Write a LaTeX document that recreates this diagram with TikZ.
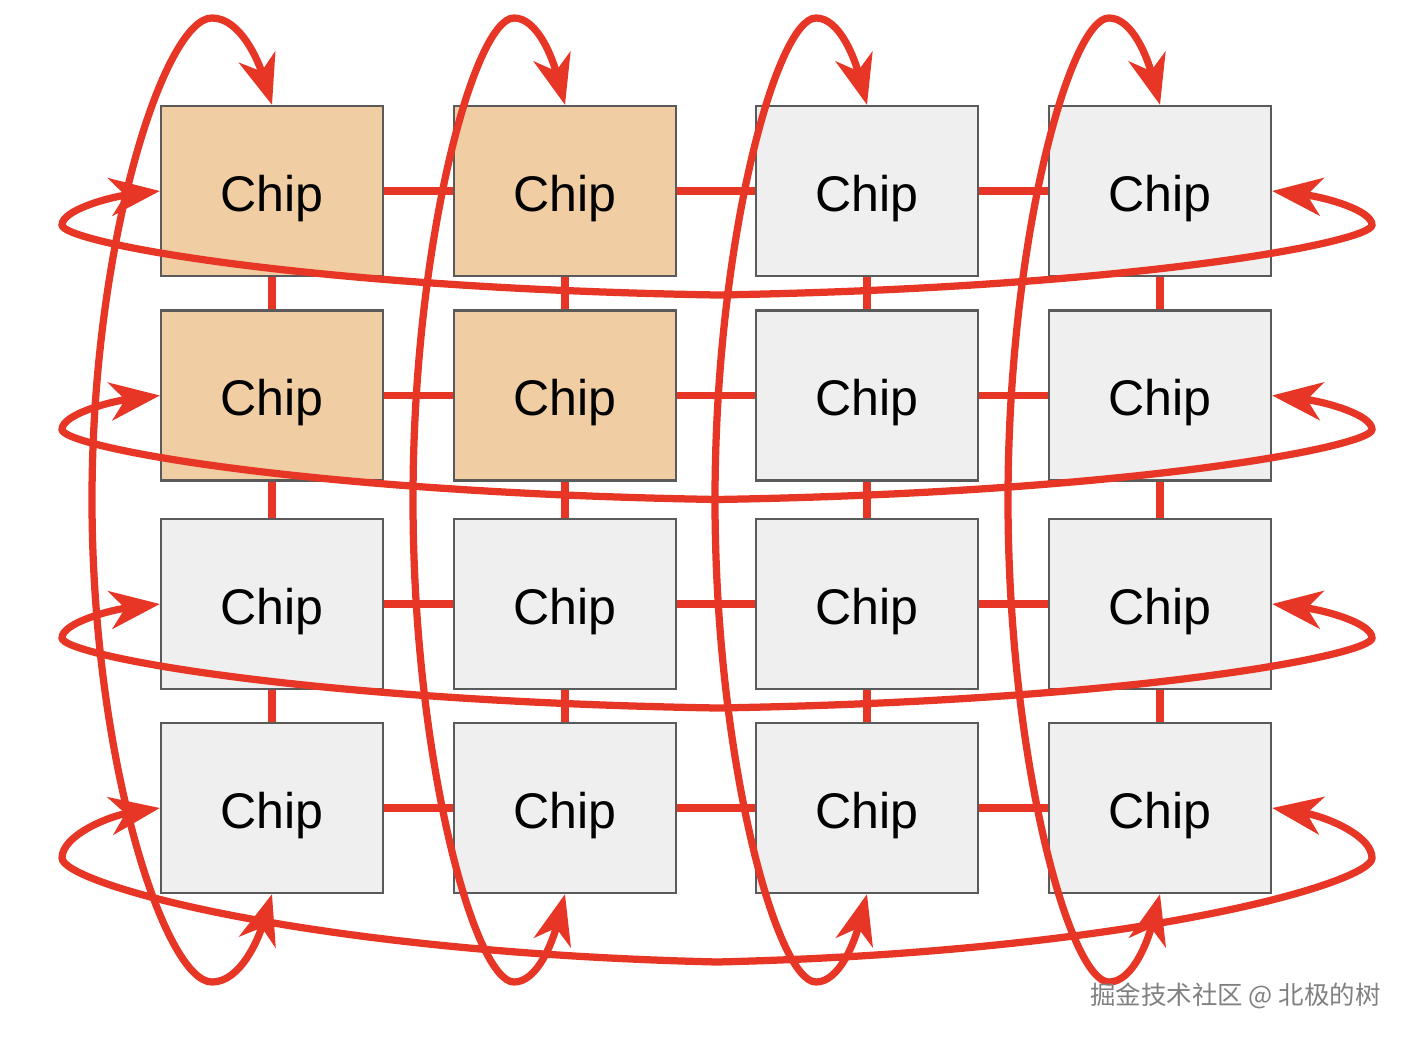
\documentclass[tikz,border=0pt]{standalone}
\usepackage{fontspec}
\setmainfont{Liberation Sans}
\newfontfamily\cjkfont{Noto Sans CJK SC}
\usepackage{tikz}
\usetikzlibrary{arrows.meta}
\definecolor{torusred}{RGB}{232,54,38}
\definecolor{chiporange}{RGB}{240,205,162}
\definecolor{chipgray}{RGB}{239,239,239}
\definecolor{chipborder}{RGB}{90,90,90}

\begin{document}
\begin{tikzpicture}[
    chip/.style={rectangle, draw=chipborder, line width=0.045cm, fill=chipgray, minimum width=4.44cm, minimum height=3.40cm, inner sep=0pt, text height=1.0cm, text depth=0.2cm, font=\fontsize{28.5}{34}\selectfont},
    hot/.style={fill=chiporange},
    link/.style={torusred, line width=0.15cm},
    wraparrow/.style={torusred, line width=0.145cm, {Stealth[length=1cm, width=0.76cm, inset=0.3cm]}-{Stealth[length=1cm, width=0.76cm, inset=0.3cm]}},
    watermark/.style={font=\cjkfont\fontsize{14.5}{16}\selectfont, text=black!50},
]
\useasboundingbox (0,0) rectangle (28.12,-20.76);

% Row 1 - two busy chips on the left
\node[chip, hot] (c11) at (5.44,-3.82) {Chip};
\node[chip, hot] (c12) at (11.30,-3.82) {Chip};
\node[chip] (c13) at (17.34,-3.82) {Chip};
\node[chip] (c14) at (23.20,-3.82) {Chip};

% Row 2
\node[chip, hot] (c21) at (5.44,-7.91) {Chip};
\node[chip, hot] (c22) at (11.30,-7.91) {Chip};
\node[chip] (c23) at (17.34,-7.91) {Chip};
\node[chip] (c24) at (23.20,-7.91) {Chip};

% Row 3
\node[chip] (c31) at (5.44,-12.08) {Chip};
\node[chip] (c32) at (11.30,-12.08) {Chip};
\node[chip] (c33) at (17.34,-12.08) {Chip};
\node[chip] (c34) at (23.20,-12.08) {Chip};

% Row 4
\node[chip] (c41) at (5.44,-16.16) {Chip};
\node[chip] (c42) at (11.30,-16.16) {Chip};
\node[chip] (c43) at (17.34,-16.16) {Chip};
\node[chip] (c44) at (23.20,-16.16) {Chip};

% Mesh links between neighbours
\draw[link] (c11) -- (c12) (c12) -- (c13) (c13) -- (c14);
\draw[link] (c21) -- (c22) (c22) -- (c23) (c23) -- (c24);
\draw[link] (c31) -- (c32) (c32) -- (c33) (c33) -- (c34);
\draw[link] (c41) -- (c42) (c42) -- (c43) (c43) -- (c44);
\draw[link] (c11) -- (c21) (c21) -- (c31) (c31) -- (c41);
\draw[link] (c12) -- (c22) (c22) -- (c32) (c32) -- (c42);
\draw[link] (c13) -- (c23) (c23) -- (c33) (c33) -- (c43);
\draw[link] (c14) -- (c24) (c24) -- (c34) (c34) -- (c44);

% Wrap-around links of each row
\draw[wraparrow] (c11.west) .. controls (2.20,-3.94) and (1.24,-4.20) .. (1.24,-4.50)
    .. controls (1.24,-4.84) and (6.00,-5.76) .. (14.34,-5.90)
    .. controls (22.68,-5.76) and (27.44,-4.84) .. (27.44,-4.50)
    .. controls (27.44,-4.20) and (26.48,-3.94) .. (c14.east);
\draw[wraparrow] (c21.west) .. controls (2.20,-8.03) and (1.24,-8.29) .. (1.24,-8.59)
    .. controls (1.24,-8.93) and (6.00,-9.85) .. (14.34,-9.99)
    .. controls (22.68,-9.85) and (27.44,-8.93) .. (27.44,-8.59)
    .. controls (27.44,-8.29) and (26.48,-8.03) .. (c24.east);
\draw[wraparrow] (c31.west) .. controls (2.20,-12.20) and (1.24,-12.46) .. (1.24,-12.76)
    .. controls (1.24,-13.10) and (6.00,-14.02) .. (14.34,-14.16)
    .. controls (22.68,-14.02) and (27.44,-13.10) .. (27.44,-12.76)
    .. controls (27.44,-12.46) and (26.48,-12.20) .. (c34.east);
\draw[wraparrow] (c41.west) .. controls (2.20,-16.32) and (1.24,-16.70) .. (1.24,-17.16)
    .. controls (1.24,-17.66) and (6.00,-19.04) .. (14.34,-19.24)
    .. controls (22.68,-19.04) and (27.44,-17.66) .. (27.44,-17.16)
    .. controls (27.44,-16.70) and (26.48,-16.32) .. (c44.east);

% Wrap-around links of each column
\draw[wraparrow] (c41.south) .. controls (5.16,-18.80) and (4.80,-19.64) .. (4.24,-19.64)
    .. controls (3.30,-19.64) and (1.84,-15.20) .. (1.84,-10.00)
    .. controls (1.84,-4.80) and (3.30,-0.36) .. (4.24,-0.36)
    .. controls (4.80,-0.36) and (5.16,-1.20) .. (c11.north);
\draw[wraparrow] (c42.south) .. controls (11.06,-18.80) and (10.76,-19.64) .. (10.28,-19.64)
    .. controls (9.50,-19.64) and (8.26,-15.20) .. (8.26,-10.00)
    .. controls (8.26,-4.80) and (9.50,-0.36) .. (10.28,-0.36)
    .. controls (10.76,-0.36) and (11.06,-1.20) .. (c12.north);
\draw[wraparrow] (c43.south) .. controls (17.10,-18.80) and (16.80,-19.64) .. (16.32,-19.64)
    .. controls (15.54,-19.64) and (14.30,-15.20) .. (14.30,-10.00)
    .. controls (14.30,-4.80) and (15.54,-0.36) .. (16.32,-0.36)
    .. controls (16.80,-0.36) and (17.10,-1.20) .. (c13.north);
\draw[wraparrow] (c44.south) .. controls (22.96,-18.80) and (22.66,-19.64) .. (22.18,-19.64)
    .. controls (21.40,-19.64) and (20.16,-15.20) .. (20.16,-10.00)
    .. controls (20.16,-4.80) and (21.40,-0.36) .. (22.18,-0.36)
    .. controls (22.66,-0.36) and (22.96,-1.20) .. (c14.north);

\node[watermark] (mark) at (24.71,-19.92) {掘金技术社区 @ 北极的树};

\end{tikzpicture}
\end{document}
